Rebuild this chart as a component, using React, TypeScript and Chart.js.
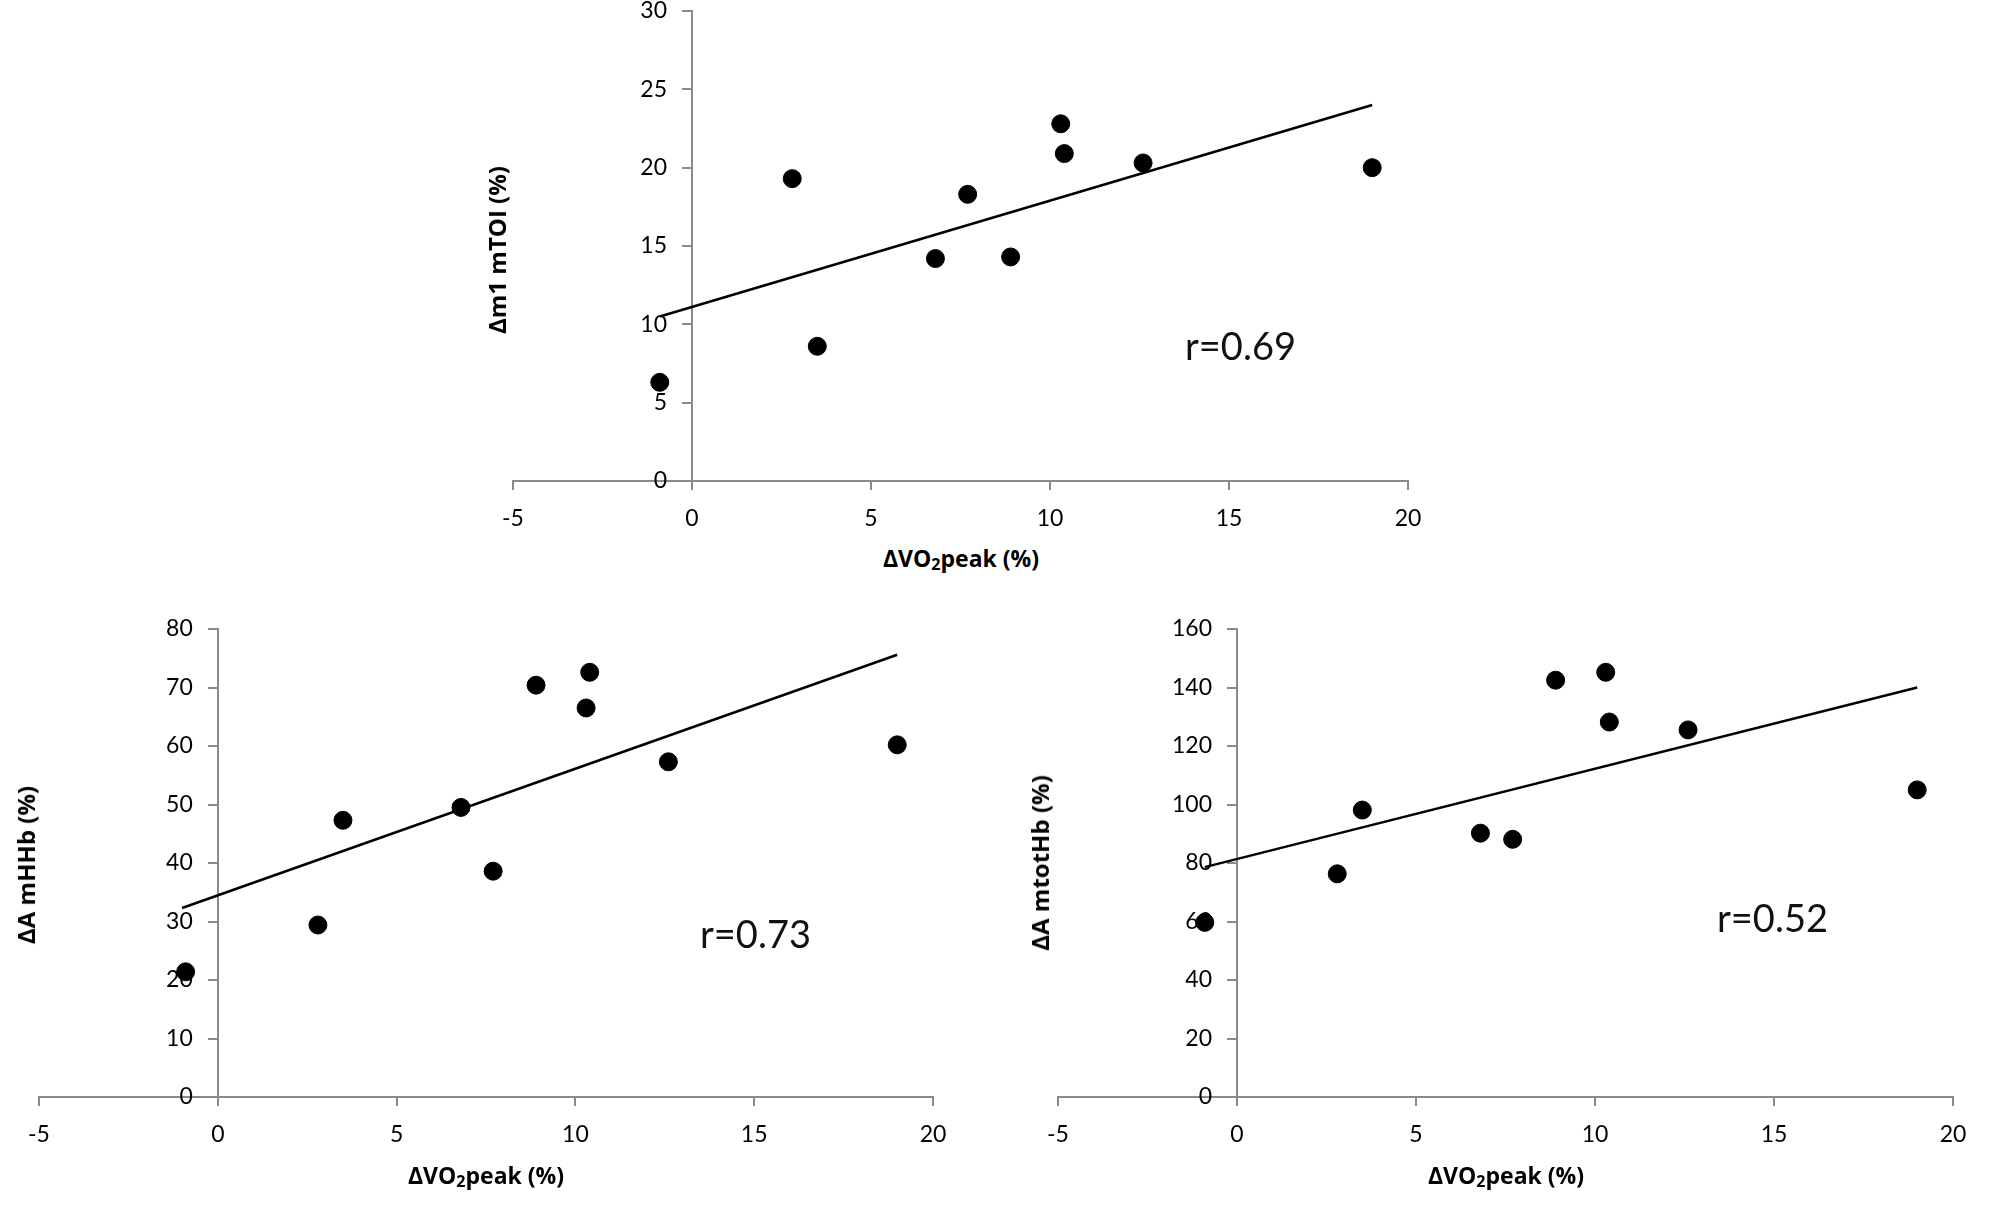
import { useEffect, useRef } from "react";
import { Chart, registerables } from "chart.js";

Chart.register(...registerables);

// change in VO2peak (%) for each subject, shared by the three panels
const vo2Peak = [-0.9, 2.8, 3.5, 6.8, 7.7, 8.9, 10.3, 10.4, 12.6, 19.0];

const m1mTOI = [6.3, 19.3, 8.6, 14.2, 18.3, 14.3, 22.8, 20.9, 20.3, 20.0];
const amHHb = [21.4, 29.4, 47.3, 49.5, 38.6, 70.4, 66.5, 72.6, 57.3, 60.2];
const amtotHb = [59.7, 76.3, 98.1, 90.2, 88.1, 142.5, 145.2, 128.2, 125.5, 105.0];

// trend line end points
const trendX = [-0.9, 19.0];
const trendTOI = [10.5, 24.0];
const trendHHbX = [-1.0, 19.0];
const trendHHb = [32.3, 75.6];
const trendTotHb = [78.6, 140.0];

const xTicks = [-5, 0, 5, 10, 15, 20];

const AXIS_GREY = "#8a8a8a";
const TICK_FONT = "23px Lato";
const Y_TICK_LEN = 9;
const Y_TICK_PAD = 16;

// y axis sits at x = 0, so its labels are drawn next to that line
const yLabelsAtZero = {
    id: "yLabelsAtZero",
    afterDraw(chart: Chart) {
        const { ctx } = chart;
        const xs = chart.scales.x;
        const ys = chart.scales.y;
        const x = xs.getPixelForValue(0) - Y_TICK_LEN - Y_TICK_PAD;
        ctx.save();
        ctx.font = TICK_FONT;
        ctx.fillStyle = "#000";
        ctx.textAlign = "right";
        ctx.textBaseline = "middle";
        ys.ticks.forEach((t) => {
            ctx.fillText(String(t.value), x, ys.getPixelForValue(t.value));
        });
        ctx.restore();
    },
};

type PanelProps = {
    box: { left: number; top: number; width: number; height: number };
    pad: { left: number; right: number; top: number; bottom: number };
    ys: number[];
    lineX: number[];
    lineY: number[];
    yMax: number;
    yStep: number;
};

function ScatterPanel({ box, pad, ys, lineX, lineY, yMax, yStep }: PanelProps) {
    const chartRef = useRef<HTMLCanvasElement | null>(null);

    useEffect(() => {
        if (!chartRef.current) return;
        const ctx = chartRef.current.getContext("2d");
        if (!ctx) return;
        const chart = new Chart(ctx, {
            type: "scatter",
            data: {
                datasets: [
                    {
                        type: "line",
                        data: lineX.map((x, i) => ({ x, y: lineY[i] })),
                        borderColor: "#000",
                        borderWidth: 2.5,
                        pointRadius: 0,
                        fill: false,
                    },
                    {
                        data: vo2Peak.map((x, i) => ({ x, y: ys[i] })),
                        backgroundColor: "#000",
                        borderColor: "#000",
                        pointRadius: 9,
                        pointHoverRadius: 9,
                    },
                ],
            },
            options: {
                animation: false,
                responsive: true,
                maintainAspectRatio: false,
                layout: { padding: pad },
                plugins: { legend: { display: false }, tooltip: { enabled: false } },
                scales: {
                    x: {
                        type: "linear",
                        position: { y: 0 },
                        min: -5,
                        max: 20,
                        afterBuildTicks: (axis) => {
                            axis.ticks = xTicks.map((v) => ({ value: v }));
                        },
                        grid: {
                            drawOnChartArea: false,
                            drawTicks: true,
                            tickLength: 8,
                            color: AXIS_GREY,
                            lineWidth: 2,
                        },
                        border: { display: true, color: AXIS_GREY, width: 2 },
                        ticks: {
                            color: "#000",
                            padding: 16,
                            font: { family: "Lato", size: 23 },
                        },
                    },
                    y: {
                        type: "linear",
                        position: { x: 0 },
                        min: 0,
                        max: yMax,
                        grid: {
                            drawOnChartArea: false,
                            drawTicks: true,
                            tickLength: Y_TICK_LEN,
                            color: AXIS_GREY,
                            lineWidth: 2,
                        },
                        border: { display: true, color: AXIS_GREY, width: 2 },
                        ticks: {
                            stepSize: yStep,
                            display: false,
                        },
                    },
                },
            },
            plugins: [yLabelsAtZero],
        });
        return () => {
            chart.destroy();
        };
    }, []);

    return (
        <div style={{ position: "absolute", ...box }}>
            <canvas ref={chartRef}></canvas>
        </div>
    );
}

const titleFont = "'Open Sans', Lato, sans-serif";

function XTitle({ cx, top }: { cx: number; top: number }) {
    return (
        <div
            style={{
                position: "absolute",
                left: cx,
                top,
                transform: "translateX(-50%)",
                fontFamily: titleFont,
                fontWeight: 700,
                fontSize: 23,
                lineHeight: 1,
                whiteSpace: "nowrap",
                color: "#000",
            }}
        >
            ΔVO<sub style={{ fontSize: "0.7em", lineHeight: 0, verticalAlign: "-0.2em" }}>2</sub>peak (%)
        </div>
    );
}

function YTitle({ cx, cy, text }: { cx: number; cy: number; text: string }) {
    return (
        <div
            style={{
                position: "absolute",
                left: cx,
                top: cy,
                transform: "translate(-50%, -50%) rotate(-90deg)",
                fontFamily: titleFont,
                fontWeight: 700,
                fontSize: 24,
                lineHeight: 1,
                whiteSpace: "nowrap",
                color: "#000",
            }}
        >
            {text}
        </div>
    );
}

function RLabel({ left, top, text }: { left: number; top: number; text: string }) {
    return (
        <div
            style={{
                position: "absolute",
                left,
                top,
                fontFamily: "Lato, sans-serif",
                fontSize: 38,
                lineHeight: 1,
                whiteSpace: "nowrap",
                color: "#111",
            }}
        >
            {text}
        </div>
    );
}

export default function App() {
    return (
        <div style={{ position: "absolute", left: 0, top: 0, width: 2000, height: 1222, background: "#fff", overflow: "hidden" }}>
            <ScatterPanel
                box={{ left: 440, top: 0, width: 1040, height: 540 }}
                pad={{ left: 73, right: 72, top: 11, bottom: 59 }}
                ys={m1mTOI}
                lineX={trendX}
                lineY={trendTOI}
                yMax={30}
                yStep={5}
            />
            <ScatterPanel
                box={{ left: 0, top: 590, width: 980, height: 590 }}
                pad={{ left: 39, right: 47, top: 39, bottom: 83 }}
                ys={amHHb}
                lineX={trendHHbX}
                lineY={trendHHb}
                yMax={80}
                yStep={10}
            />
            <ScatterPanel
                box={{ left: 1000, top: 590, width: 1000, height: 590 }}
                pad={{ left: 58, right: 47, top: 39, bottom: 83 }}
                ys={amtotHb}
                lineX={trendX}
                lineY={trendTotHb}
                yMax={160}
                yStep={20}
            />

            <XTitle cx={961} top={547} />
            <XTitle cx={486} top={1164} />
            <XTitle cx={1506} top={1164} />

            <YTitle cx={497} cy={250} text="Δm1 mTOI (%)" />
            <YTitle cx={26} cy={865} text="ΔA mHHb (%)" />
            <YTitle cx={1040} cy={863} text="ΔA mtotHb (%)" />

            <RLabel left={1185} top={326} text="r=0.69" />
            <RLabel left={700} top={914} text="r=0.73" />
            <RLabel left={1717} top={898} text="r=0.52" />
        </div>
    );
}
